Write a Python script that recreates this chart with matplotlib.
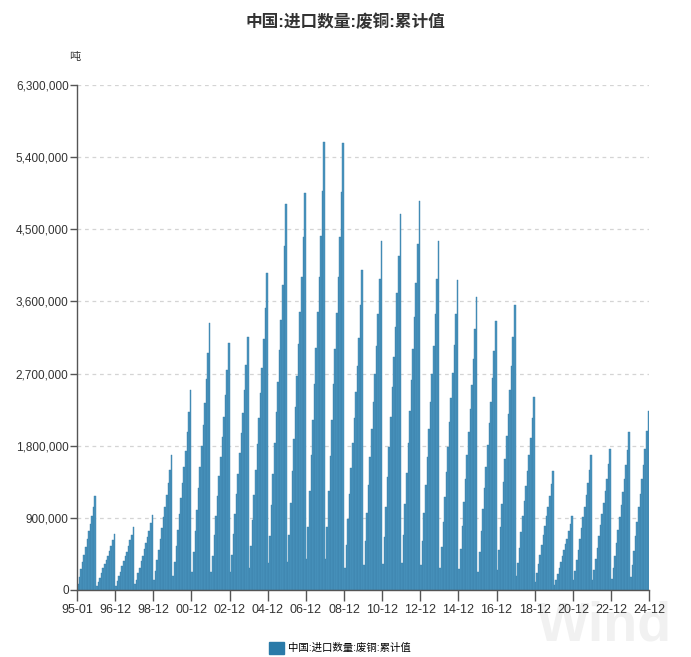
import matplotlib
matplotlib.use('Agg')
import matplotlib.pyplot as plt
from matplotlib.ticker import FuncFormatter
import numpy as np

plt.rcParams['font.family'] = ['Liberation Sans', 'Noto Sans CJK SC', 'DejaVu Sans']

# 废铜进口累计值, 万吨, 每行一年 (1-12月)
cum_1995_1999 = [
    8, 16, 26, 35, 44, 54, 63, 73, 82, 92, 104, 117,
    5, 10, 15, 21, 27, 32, 38, 43, 49, 55, 62, 70,
    5, 11, 17, 23, 30, 36, 42, 48, 55, 62, 69, 78,
    7, 13, 21, 28, 36, 43, 51, 58, 66, 74, 84, 94,
    12, 24, 37, 50, 64, 77, 91, 104, 118, 133, 150, 168,
]
cum_2000_2004 = [
    17, 35, 55, 75, 95, 115, 134, 154, 174, 197, 222, 249,
    23, 47, 73, 100, 127, 153, 180, 206, 233, 263, 296, 333,
    22, 43, 68, 92, 117, 142, 166, 191, 216, 243, 274, 308,
    22, 44, 70, 95, 120, 145, 171, 196, 221, 250, 281, 316,
    28, 55, 87, 119, 150, 182, 214, 246, 277, 313, 352, 396,
]
cum_2005_2009 = [
    34, 67, 106, 145, 183, 222, 260, 299, 337, 381, 429, 482,
    35, 69, 109, 149, 188, 228, 267, 307, 347, 391, 441, 495,
    39, 78, 123, 168, 212, 257, 302, 347, 391, 442, 498, 559,
    39, 78, 123, 167, 212, 257, 301, 346, 391, 441, 497, 558,
    28, 56, 88, 120, 152, 184, 215, 247, 279, 315, 355, 399,
]
cum_2010_2014 = [
    31, 61, 96, 131, 166, 201, 235, 270, 305, 344, 388, 436,
    33, 66, 103, 141, 178, 216, 253, 291, 328, 371, 417, 469,
    34, 68, 107, 146, 184, 223, 262, 301, 340, 383, 432, 485,
    31, 61, 96, 131, 166, 201, 235, 270, 305, 344, 388, 436,
    27, 54, 85, 116, 147, 178, 209, 240, 271, 306, 344, 387,
]
cum_2015_2019 = [
    26, 51, 80, 110, 139, 168, 197, 226, 256, 288, 325, 365,
    23, 47, 74, 101, 127, 154, 181, 208, 235, 265, 298, 335,
    25, 50, 78, 107, 135, 163, 192, 220, 249, 280, 316, 355,
    17, 34, 53, 72, 92, 111, 130, 149, 169, 190, 214, 241,
    10, 21, 33, 44, 56, 68, 80, 92, 104, 117, 132, 148,
]
cum_2020_2024 = [
    6, 13, 20, 28, 35, 42, 50, 57, 64, 73, 82, 92,
    12, 24, 37, 50, 64, 77, 91, 104, 118, 133, 150, 168,
    12, 25, 39, 53, 67, 81, 95, 109, 123, 139, 157, 176,
    14, 28, 43, 59, 75, 91, 106, 122, 138, 156, 175, 197,
    16, 31, 49, 67, 85, 103, 120, 138, 156, 176, 198, 223,
]
tick_labels = ['95-01', '96-12', '98-12', '00-12', '02-12', '04-12', '06-12', '08-12',
               '10-12', '12-12', '14-12', '16-12', '18-12', '20-12', '22-12', '24-12']

values = np.array(cum_1995_1999 + cum_2000_2004 + cum_2005_2009 +
                  cum_2010_2014 + cum_2015_2019 + cum_2020_2024) * 10000
months = np.arange(len(values))

fig = plt.figure(figsize=(6.91, 6.57), dpi=100)

# Wind 水印, 放在坐标轴下层
fig.text(0.875, 0.046, 'Wind', ha='center', va='center', fontsize=40,
         fontweight='bold', color='#f1f1f1', zorder=-5)

ax = fig.add_axes([0.1114, 0.102, 0.828, 0.7686])
ax.patch.set_alpha(0)

ax.bar(months, values, width=1.0, align='edge', color='#4893bd',
       edgecolor='#3a80aa', linewidth=0.3, zorder=2)

ax.set_xlim(0, len(values))
ax.set_ylim(0, 6300000)
ax.set_yticks(np.arange(0, 6300001, 900000))
ax.yaxis.set_major_formatter(FuncFormatter(lambda v, p: '{:,.0f}'.format(v)))
ax.set_xticks(np.arange(0, len(values) + 1, 24))
ax.set_xticklabels(tick_labels)

ax.grid(axis='y', color='#d4d4d4', linestyle=(0, (3, 3)), linewidth=0.9, zorder=0)
for s in ['top', 'right']:
    ax.spines[s].set_visible(False)
for s in ['left', 'bottom']:
    ax.spines[s].set_color('#555555')
    ax.spines[s].set_linewidth(1.0)
ax.tick_params(axis='y', length=5, width=1, color='#555555', labelsize=8.5,
               labelcolor='#333333', pad=1)
ax.tick_params(axis='x', length=8, width=1, color='#555555', labelsize=9,
               labelcolor='#333333', pad=2)

fig.text(0.5, 0.967, '中国:进口数量:废铜:累计值', ha='center', va='center',
         fontsize=12, fontweight='bold', color='#333333')
fig.text(0.108, 0.913, '吨', ha='center', va='center', fontsize=8, color='#333333')

handle = plt.Rectangle((0, 0), 1, 1, color='#2a7aa8')
fig.legend([handle], ['中国:进口数量:废铜:累计值'], loc='center',
           bbox_to_anchor=(0.492, 0.014), frameon=False, fontsize=7.5,
           handlelength=1.4, handleheight=1.4, handletextpad=0.4)

fig.savefig('out.png', dpi=100)
